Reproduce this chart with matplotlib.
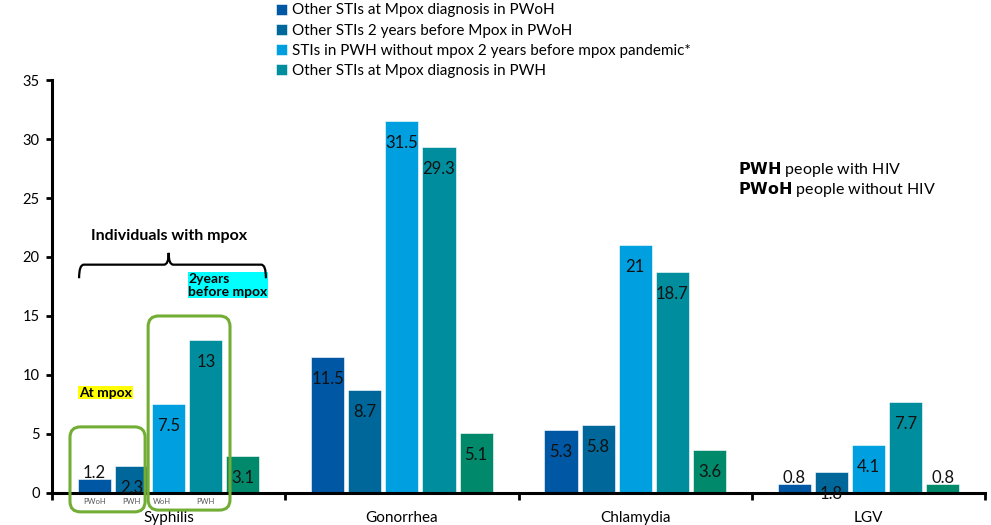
import numpy as np
import matplotlib
matplotlib.use("Agg")
import matplotlib.pyplot as plt
from matplotlib.patches import FancyBboxPatch, PathPatch
from matplotlib.path import Path

plt.rcParams['font.family'] = ['Lato', 'DejaVu Sans']

infections = ['Syphilis', 'Gonorrhea', 'Chlamydia', 'LGV']
series_names = [
    'Other STIs at Mpox diagnosis in PWoH',
    'Other STIs 2 years before Mpox in PWoH',
    'STIs in PWH without mpox 2 years before mpox pandemic*',
    'Other STIs at Mpox diagnosis in PWH',
    None,
]
pwoh_at_mpox = [1.2, 11.5, 5.3, 0.8]
pwoh_2y_before = [2.3, 8.7, 5.8, 1.8]
pwh_no_mpox = [7.5, 31.5, 21, 4.1]
pwh_at_mpox = [13, 29.3, 18.7, 7.7]
fifth_group = [3.1, 5.1, 3.6, 0.8]
series = [pwoh_at_mpox, pwoh_2y_before, pwh_no_mpox, pwh_at_mpox, fifth_group]
colors = ['#0057a3', '#00679b', '#009fe0', '#008e9e', '#00896a']

fig = plt.figure(figsize=(9.91, 5.25), dpi=100)
ax = fig.add_axes([0.0525, 0.061, 0.9415, 0.7866])

x = np.arange(len(infections))
slot = 0.159
width = 0.142
for i, (vals, col, name) in enumerate(zip(series, colors, series_names)):
    pos = x + (i - 2) * slot
    ax.bar(pos, vals, width, color=col, edgecolor='white', linewidth=0.4,
           label=name if name else '_nolegend_', zorder=2)
    for px, v in zip(pos, vals):
        txt = f'{v:g}'
        off = 6 if v < 1.5 else -22
        ax.annotate(txt, (px, v), xytext=(0, off), textcoords='offset pixels',
                    ha='center', va='center', fontsize=12, color='#111111', zorder=3)

ax.set_xlim(-0.5, 3.5)
ax.set_ylim(0, 35)
ax.set_yticks(range(0, 36, 5))
ax.set_xticks(np.arange(-0.5, 4, 1))
ax.set_xticklabels([])
ax.set_xticks(x, minor=True)
ax.set_xticklabels(infections, minor=True)
ax.tick_params(axis='x', which='minor', length=0, pad=13, labelsize=11)
ax.tick_params(axis='x', which='major', length=5, width=2, direction='out')
ax.tick_params(axis='y', length=4, width=2, labelsize=10.5, pad=5)
for s in ['top', 'right']:
    ax.spines[s].set_visible(False)
for s in ['left', 'bottom']:
    ax.spines[s].set_linewidth(2.2)

# small group labels under the syphilis bars
for i, lab in zip(range(4), ['PWoH', 'PWH', 'WoH', 'PWH']):
    ax.text(x[0] + (i - 2) * slot + (-0.03 if i == 2 else 0), -0.75, lab,
            ha='center', va='center', fontsize=5.5, color='#555555', clip_on=False)

# green outlines around the two syphilis pairs
asp = (1 / 11.8) / (1 / 233.25)
for (x0, y0, w, h) in [(-0.423, -1.6, 0.322, 7.2), (-0.088, -1.45, 0.351, 16.45)]:
    box = FancyBboxPatch((x0, y0), w, h, boxstyle='round,pad=0,rounding_size=0.045',
                         mutation_aspect=asp, fill=False, edgecolor='#72ad35',
                         linewidth=2.2, clip_on=False, zorder=4)
    ax.add_patch(box)

# curly brace over the syphilis group
xl, xm, xr = -0.384, -0.0, 0.417
yb, yh, yt = 18.2, 19.35, 20.35
verts = [(xl, yb), (xl, yh), (xl + 0.02, yh),
         (xm - 0.02, yh), (xm, yh), (xm, yt),
         (xm, yh), (xm + 0.02, yh),
         (xr - 0.02, yh), (xr, yh), (xr, yb)]
codes = [Path.MOVETO, Path.CURVE3, Path.CURVE3,
         Path.LINETO, Path.CURVE3, Path.CURVE3,
         Path.CURVE3, Path.CURVE3,
         Path.LINETO, Path.CURVE3, Path.CURVE3]
ax.add_patch(PathPatch(Path(verts, codes), fill=False, linewidth=1.6,
                       edgecolor='black', clip_on=False, zorder=4))

ax.text(0.0, 21.8, 'Individuals with mpox', ha='center', va='center',
        fontsize=11.5, fontweight='bold')
ax.text(0.085, 17.6, '2years\nbefore mpox', ha='left', va='center', fontsize=10,
        fontweight='bold', linespacing=1.05,
        bbox=dict(facecolor='#00ffff', edgecolor='none', pad=0.5))
ax.text(-0.384, 8.5, 'At mpox', ha='left', va='center', fontsize=10,
        fontweight='bold', bbox=dict(facecolor='#ffff00', edgecolor='none', pad=0.5))

ax.text(2.44, 27.4, r'$\bf{PWH}$ people with HIV', fontsize=11.5, ha='left', va='center')
ax.text(2.44, 25.7, r'$\bf{PWoH}$ people without HIV', fontsize=11.5, ha='left', va='center')

fig.legend(loc='upper left', bbox_to_anchor=(0.272, 1.005), frameon=False,
           fontsize=11, handlelength=0.75, handleheight=0.75, handletextpad=0.3,
           labelspacing=0.4, borderaxespad=0)

fig.savefig('out.png', dpi=100)
